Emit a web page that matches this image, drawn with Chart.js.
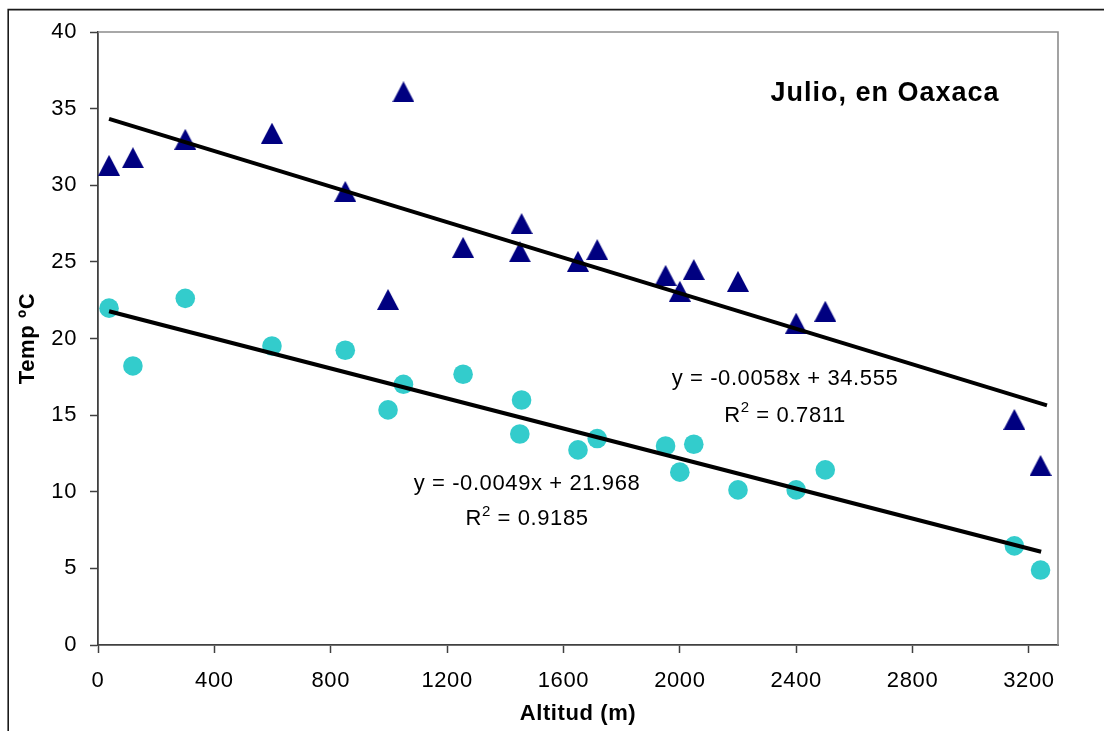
<!DOCTYPE html>
<html>
<head>
<meta charset="utf-8">
<title>Julio, en Oaxaca</title>
<script src="https://cdn.jsdelivr.net/npm/chart.js@4.4.1/dist/chart.umd.min.js"></script>
<style>
  html, body { margin: 0; padding: 0; background: #fff; overflow: hidden; }
  canvas { display: block; }
</style>
</head>
<body>
<canvas id="chart" width="1104" height="731"></canvas>
<script>
// Station altitudes (m) and July temperatures (ºC) for Oaxaca
const altitudes = [38, 120, 300, 598, 850, 997, 1050, 1255, 1450, 1456, 1650, 1716, 1951, 2000, 2048, 2200, 2400, 2500, 3150, 3240];
const tempMax   = [31.3, 31.8, 33.0, 33.4, 29.6, 22.55, 36.1, 25.95, 25.66, 27.5, 25.04, 25.8, 24.12, 23.08, 24.5, 23.73, 21.0, 21.78, 14.72, 11.72];
const tempMin   = [21.98, 18.21, 22.62, 19.51, 19.23, 15.34, 17.01, 17.67, 13.77, 15.99, 12.73, 13.47, 12.99, 11.28, 13.10, 10.12, 10.12, 11.43, 6.47, 4.89];

// Linear trend lines (max series, min series)
const trendSlopes     = [-0.0058, -0.0049];
const trendIntercepts = [34.555, 21.968];
const trendR2         = ['0.7811', '0.9185'];
const trendSpans      = [[38, 3262], [38, 3242]];

// Axis ticks
const xTicks = [0, 400, 800, 1200, 1600, 2000, 2400, 2800, 3200];
const yTicks = [0, 5, 10, 15, 20, 25, 30, 35, 40];

const chartTitle = 'Julio, en Oaxaca';
const xTitle = 'Altitud (m)';
const yTitle = 'Temp ºC';

const FONT = "'Liberation Sans', Arial, sans-serif";
const NAVY = '#000080';
const TURQ = '#33CCCC';

function toPoints(xs, ys) { return xs.map((x, i) => ({ x, y: ys[i] })); }

function trendPoints(i) {
  return trendSpans[i].map(x => ({ x, y: trendSlopes[i] * x + trendIntercepts[i] }));
}

function triangleMarker(w, h, color) {
  const c = document.createElement('canvas');
  c.width = w; c.height = h;
  const g = c.getContext('2d');
  g.fillStyle = color;
  g.beginPath();
  g.moveTo(w / 2, 0);
  g.lineTo(w, h);
  g.lineTo(0, h);
  g.closePath();
  g.fill();
  return c;
}

// Equation labels: [series index, centre x, baseline of first line, baseline of second line]
const eqLabels = [
  [0, 785, 385, 421.5],
  [1, 527, 489.5, 525]
];

function eqText(i) {
  const s = trendSlopes[i].toFixed(4);
  const b = trendIntercepts[i].toFixed(3);
  return 'y = ' + s + 'x + ' + b;
}

const decor = {
  id: 'decor',
  beforeDraw(chart) {
    const ctx = chart.ctx;
    ctx.save();
    ctx.fillStyle = '#fff';
    ctx.fillRect(0, 0, chart.width, chart.height);
    ctx.restore();
    ctx.letterSpacing = '0.6px';
  },
  beforeDatasetsDraw(chart) {
    const { ctx, chartArea: a } = chart;
    ctx.save();
    ctx.strokeStyle = '#8c8c8c';
    ctx.lineWidth = 1.6;
    ctx.beginPath();
    ctx.moveTo(a.left, a.top);
    ctx.lineTo(a.right, a.top);
    ctx.lineTo(a.right, a.bottom);
    ctx.stroke();
    ctx.restore();
  },
  afterDraw(chart) {
    const ctx = chart.ctx;
    ctx.save();
    // outer frame
    ctx.strokeStyle = '#1a1a1a';
    ctx.lineWidth = 1.6;
    ctx.beginPath();
    ctx.moveTo(8.2, chart.height);
    ctx.lineTo(8.2, 9.6);
    ctx.lineTo(chart.width, 9.6);
    ctx.stroke();

    // title
    ctx.fillStyle = '#000';
    ctx.letterSpacing = '1px';
    ctx.font = 'bold 27px ' + FONT;
    ctx.textAlign = 'center';
    ctx.textBaseline = 'alphabetic';
    ctx.fillText(chartTitle, 885, 101);

    // trend equations
    ctx.letterSpacing = '0.6px';
    eqLabels.forEach(([i, cx, y1, y2]) => {
      ctx.font = '22px ' + FONT;
      ctx.textAlign = 'center';
      ctx.fillText(eqText(i), cx, y1);
      ctx.textAlign = 'left';
      const big = '22px ' + FONT, small = '15px ' + FONT;
      ctx.font = big;
      const wR = ctx.measureText('R').width;
      const rest = ' = ' + trendR2[i];
      const wRest = ctx.measureText(rest).width;
      ctx.font = small;
      const w2 = ctx.measureText('2').width;
      let x = cx - (wR + w2 + wRest) / 2;
      ctx.font = big;
      ctx.fillText('R', x, y2);
      x += wR;
      ctx.font = small;
      ctx.fillText('2', x, y2 - 9.5);
      x += w2;
      ctx.font = big;
      ctx.fillText(rest, x, y2);
    });
    ctx.restore();
  }
};

const triImg = triangleMarker(22, 21, NAVY);
const plainNumber = v => String(v);

new Chart(document.getElementById('chart'), {
  type: 'scatter',
  data: {
    datasets: [
      {
        type: 'line', data: trendPoints(0), borderColor: '#000', borderWidth: 4,
        pointRadius: 0, fill: false, order: 0
      },
      {
        type: 'line', data: trendPoints(1), borderColor: '#000', borderWidth: 4,
        pointRadius: 0, fill: false, order: 0
      },
      {
        data: toPoints(altitudes, tempMax), pointStyle: triImg, pointRadius: 11,
        backgroundColor: NAVY, borderWidth: 0, order: 1
      },
      {
        data: toPoints(altitudes, tempMin), pointStyle: 'circle', pointRadius: 9.8,
        backgroundColor: TURQ, borderColor: TURQ, borderWidth: 0, order: 1
      }
    ]
  },
  options: {
    responsive: false,
    animation: false,
    events: [],
    layout: { padding: { top: 32, right: 46, left: 0, bottom: 0 } },
    plugins: { legend: { display: false }, tooltip: { enabled: false }, title: { display: false } },
    scales: {
      x: {
        type: 'linear', min: 0, max: 3300,
        afterFit(s) { s.height = 86; },
        afterBuildTicks(s) { s.ticks = xTicks.map(v => ({ value: v })); },
        ticks: {
          stepSize: 400, includeBounds: false, maxRotation: 0, autoSkip: false,
          callback: plainNumber,
          padding: 15, color: '#000', font: { family: FONT, size: 22, lineHeight: 1.2 }
        },
        grid: { drawOnChartArea: false, drawTicks: true, tickLength: 8, tickColor: '#404040', tickWidth: 1.5 },
        border: { display: true, color: '#404040', width: 1.8 },
        title: {
          display: true, text: xTitle, color: '#000',
          font: { family: FONT, size: 22, weight: 'bold', lineHeight: 1.2 },
          padding: { top: 0, bottom: 4 }
        }
      },
      y: {
        type: 'linear', min: 0, max: 40,
        afterFit(s) { s.width = 98; },
        afterBuildTicks(s) { s.ticks = yTicks.map(v => ({ value: v })); },
        ticks: {
          stepSize: 5, padding: 13, color: '#000', callback: plainNumber,
          font: { family: FONT, size: 22, lineHeight: 1.2 }
        },
        grid: { drawOnChartArea: false, drawTicks: true, tickLength: 8, tickColor: '#404040', tickWidth: 1.5 },
        border: { display: true, color: '#404040', width: 1.8 },
        title: {
          display: true, text: yTitle, color: '#000',
          font: { family: FONT, size: 22, weight: 'bold', lineHeight: 1.2 },
          padding: { top: 15, bottom: 0 }
        }
      }
    }
  },
  plugins: [decor]
});
</script>
</body>
</html>
